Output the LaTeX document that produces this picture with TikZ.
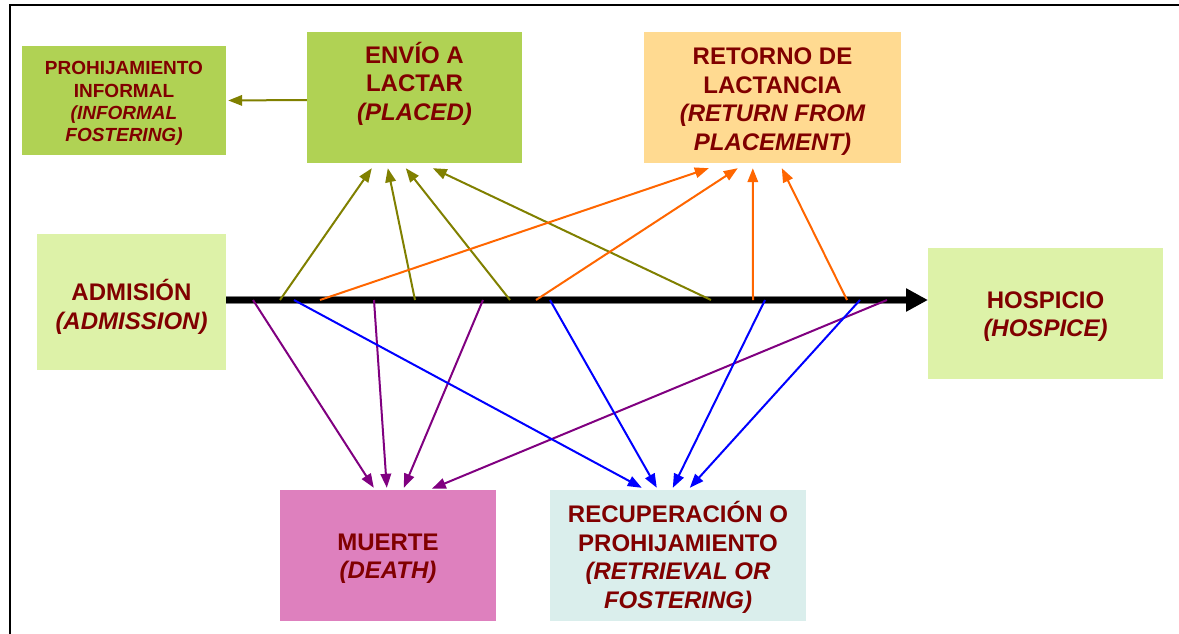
\documentclass[tikz,border=0pt]{standalone}
\usepackage{fontspec}
\setmainfont{Liberation Sans}
\usetikzlibrary{arrows.meta,calc}
\definecolor{txtred}{RGB}{128,0,0}
\definecolor{greenbox}{RGB}{176,210,84}
\definecolor{lightgreen}{RGB}{221,242,168}
\definecolor{peach}{RGB}{255,218,145}
\definecolor{pinkbox}{RGB}{222,128,190}
\definecolor{paleblue}{RGB}{218,238,236}
\definecolor{olivec}{RGB}{128,128,0}
\definecolor{orangec}{RGB}{255,102,0}
\definecolor{purplec}{RGB}{128,0,128}
\definecolor{bluec}{RGB}{0,0,255}
\begin{document}
\begin{tikzpicture}[x=1pt,y=-1pt,
  box/.style={draw=none,inner sep=0pt},
  bigtxt/.style={inner sep=0pt,align=center,text=txtred,yshift=-3pt,
    font=\bfseries\fontsize{24}{28.5}\selectfont},
  smalltxt/.style={bigtxt,font=\bfseries\fontsize{19}{22.3}\selectfont},
  conn/.style={line width=2pt,-{Triangle[length=14pt,width=10.5pt]}},
  olv/.style={conn,olivec},
  org/.style={conn,orangec},
  pur/.style={conn,purplec},
  blu/.style={conn,bluec}]
\useasboundingbox (0,0) rectangle (1179,634);
% frame
\draw[line width=2pt] (10,634) -- (10,5) -- (1179,5);

% boxes
\node[box,fill=greenbox,minimum width=204pt,minimum height=109pt,
  label={[smalltxt]center:{PROHIJAMIENTO\\INFORMAL\\\itshape(INFORMAL\\\itshape FOSTERING)}}] (inf) at (124,100.5) {};
\node[box,fill=greenbox,minimum width=215pt,minimum height=131pt,
  label={[bigtxt,yshift=1pt]center:{ENVÍO A\\LACTAR\\\itshape(PLACED)\\\strut}}] (env) at (414.5,97.5) {};
\node[box,fill=peach,minimum width=257pt,minimum height=131pt,
  label={[bigtxt,yshift=-1pt]center:{RETORNO DE\\LACTANCIA\\\itshape(RETURN FROM\\\itshape PLACEMENT)}}] (ret) at (772.5,97.5) {};
\node[box,fill=lightgreen,minimum width=189pt,minimum height=136pt,
  label={[bigtxt,yshift=-2pt]center:{ADMISIÓN\\\itshape(ADMISSION)}}] (adm) at (131.5,302) {};
\node[box,fill=lightgreen,minimum width=235pt,minimum height=131pt,
  label={[bigtxt]center:{HOSPICIO\\\itshape(HOSPICE)}}] (hos) at (1045.5,313.5) {};
\node[box,fill=pinkbox,minimum width=216pt,minimum height=131pt,
  label={[bigtxt]center:{MUERTE\\\itshape(DEATH)}}] (mue) at (388,555.5) {};
\node[box,fill=paleblue,minimum width=256pt,minimum height=131pt,
  label={[bigtxt,yshift=1pt]center:{RECUPERACIÓN O\\PROHIJAMIENTO\\\itshape(RETRIEVAL OR\\\itshape FOSTERING)}}] (rec) at (678,555.5) {};

% timeline
\coordinate (ts) at (226,300);
\coordinate (te) at (928,300);
\draw[gray,line width=8pt,shorten >=20pt] (ts) -- (te);
\draw[black,line width=6pt,-{Triangle[length=22pt,width=22pt]}] (ts) -- (te);

% informal fostering
\draw[olv,shorten >=2pt] ($(env.west)+(0,2.5)$) -- (inf.east);

% start points on the timeline
\coordinate (o1) at (280,300);
\coordinate (o2) at (415,300);
\coordinate (o3) at (510,300);
\coordinate (o4) at (711,300);
\coordinate (r1) at (320,300);
\coordinate (r2) at (536,300);
\coordinate (r3) at (753,300);
\coordinate (r4) at (847,300);
\coordinate (m1) at (253,300);
\coordinate (m2) at (374,300);
\coordinate (m3) at (483,300);
\coordinate (m4) at (887,300);
\coordinate (b1) at (294,300);
\coordinate (b2) at (550,300);
\coordinate (b3) at (765,300);
\coordinate (b4) at (860,300);

% to placed
\draw[olv] (o1) -- ($(env.south west)+(65,5)$);
\draw[olv] (o2) -- ($(env.south west)+(81,5)$);
\draw[olv] (o3) -- ($(env.south west)+(99,5)$);
\draw[olv] (o4) -- ($(env.south west)+(126,5)$);
% to return from placement
\draw[org] (r1) -- ($(ret.south west)+(65,5)$);
\draw[org] (r2) -- ($(ret.south west)+(94,5)$);
\draw[org] (r3) -- ($(ret.south west)+(109,5)$);
\draw[org] (r4) -- ($(ret.south west)+(138,5)$);
% to death
\draw[pur] (m1) -- ($(mue.north west)+(94,-2)$);
\draw[pur] (m2) -- ($(mue.north west)+(107,-2)$);
\draw[pur] (m3) -- ($(mue.north west)+(124,-2)$);
\draw[pur] (m4) -- ($(mue.north west)+(152,-1)$);
% to retrieval
\draw[blu] (b1) -- ($(rec.north west)+(92,-2)$);
\draw[blu] (b2) -- ($(rec.north west)+(107,-2)$);
\draw[blu] (b3) -- ($(rec.north west)+(123,-2)$);
\draw[blu] (b4) -- ($(rec.north west)+(140,-2)$);
\end{tikzpicture}
\end{document}
